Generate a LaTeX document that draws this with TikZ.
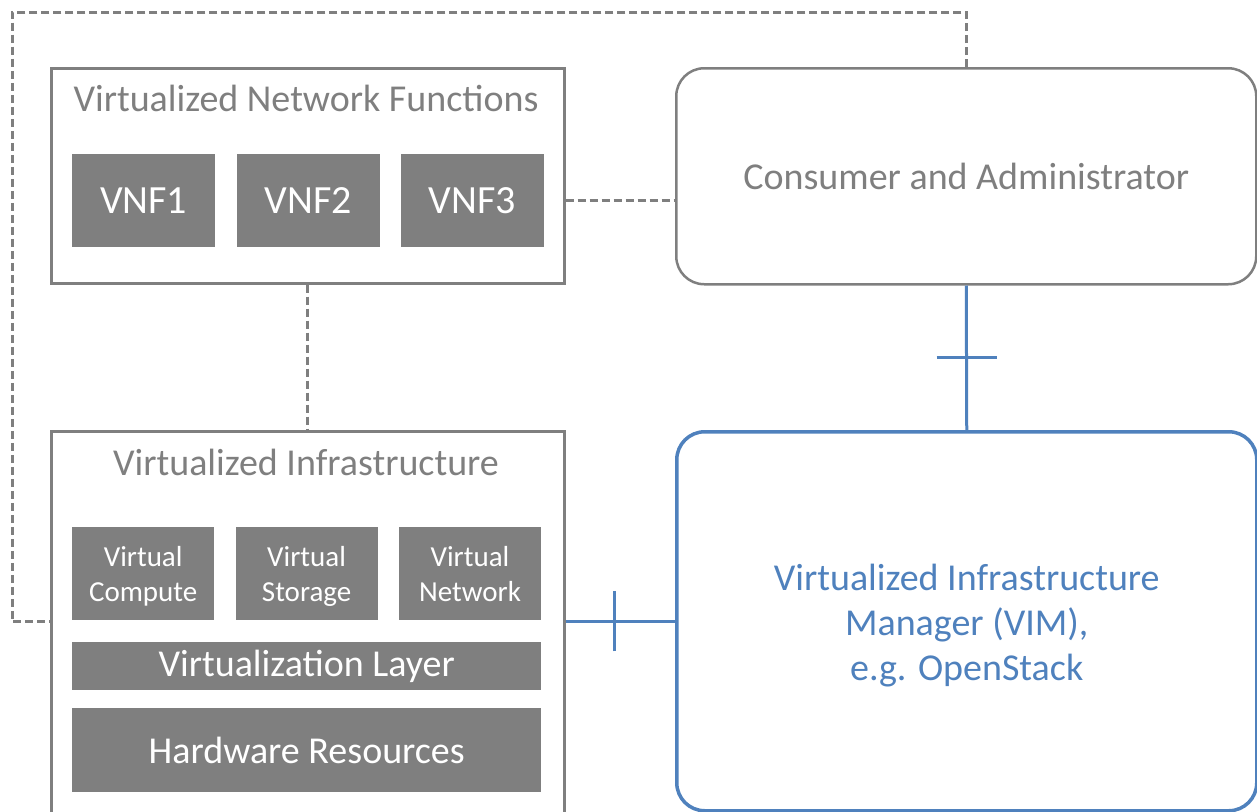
\documentclass[tikz,border=0pt]{standalone}
\usepackage{fontspec}
\setmainfont{Carlito}
\usetikzlibrary{positioning}
\definecolor{boxgray}{HTML}{7F7F7F}
\definecolor{vimblue}{HTML}{4F81BD}

\begin{document}
\begin{tikzpicture}[x=1pt, y=-1pt, node distance=21pt,
    frame/.style={draw=boxgray, line width=2.5pt, anchor=north west, inner sep=0pt},
    title/.style={text=boxgray, font=\fontsize{38}{44}\selectfont},
    part/.style={fill=boxgray, text=white, inner sep=0pt, align=center},
    vnfpart/.style={part, minimum width=143pt, minimum height=93pt, font=\fontsize{40}{46}\selectfont},
    virt/.style={part, minimum width=142pt, minimum height=93pt, font=\fontsize{29}{35}\selectfont,
      execute at begin node={\rule{0pt}{66pt}}, execute at end node=\strut},
    layer/.style={part, minimum width=469pt, font=\fontsize{38}{44}\selectfont},
    dashline/.style={draw=boxgray, line width=3pt, dash pattern=on 8pt off 4pt},
    link/.style={draw=vimblue, line width=3pt}]

  \useasboundingbox (0,0) rectangle (1257,811);
  \clip (0,0) rectangle (1257,811);

  \node[frame, minimum width=513pt, minimum height=215pt] (vnf) at (50,67) {};
  \node[title] (vnft) at (306,98) {Virtualized Network Functions};
  \node[vnfpart, anchor=north west] (v1) at (72,154) {VNF1};
  \node[vnfpart, right=of v1] (v2) {VNF2};
  \node[vnfpart, right=of v2] (v3) {VNF3};

  \node[frame, rounded corners=28pt, minimum width=580pt, minimum height=216pt] (cons) at (675,67) {};
  \node[title] (const) at (cons.center) {Consumer and Administrator};

  \node[frame, minimum width=513pt, minimum height=430pt] (infra) at (50,430) {};
  \node[title] (infrat) at (306,462) {Virtualized Infrastructure};
  \node[virt, anchor=north west] (vc) at (72,527) {Virtual\\Compute};
  \node[virt, right=of vc] (vs) {Virtual\\Storage};
  \node[virt, right=of vs] (vn) {Virtual\\Network};
  \node[layer, minimum height=48pt, anchor=north west] (vl) at (72,642) {Virtualization Layer};
  \node[layer, minimum height=84pt, anchor=north west] (hw) at (72,708) {Hardware Resources};

  \node[frame, draw=vimblue, line width=3.5pt, rounded corners=28pt, minimum width=580pt, minimum height=379pt] (vim) at (675,430) {};
  \node[text=vimblue, align=center, font=\fontsize{38}{45}\selectfont, yshift=-4pt] (vimt) at (vim.center)
    {Virtualized Infrastructure\\Manager (VIM),\\e.g. OpenStack};

  \draw[dashline] (vnf.east |- v3) -- (cons.west |- v3);
  \draw[dashline] (vnf.south) -- (infra.north);
  \draw[dashline] (cons.north) |- (12,12) |- (infra.west |- vim.west);

  \draw[link] (cons.south) -- (vim.north) coordinate[pos=0.5] (t1);
  \draw[link] ([xshift=-30pt]t1) -- ([xshift=30pt]t1);
  \draw[link] (infra.east |- vim.west) -- (vim.west) coordinate[pos=0.45] (t2);
  \draw[link] ([yshift=-30pt]t2) -- ([yshift=30pt]t2);
\end{tikzpicture}
\end{document}
